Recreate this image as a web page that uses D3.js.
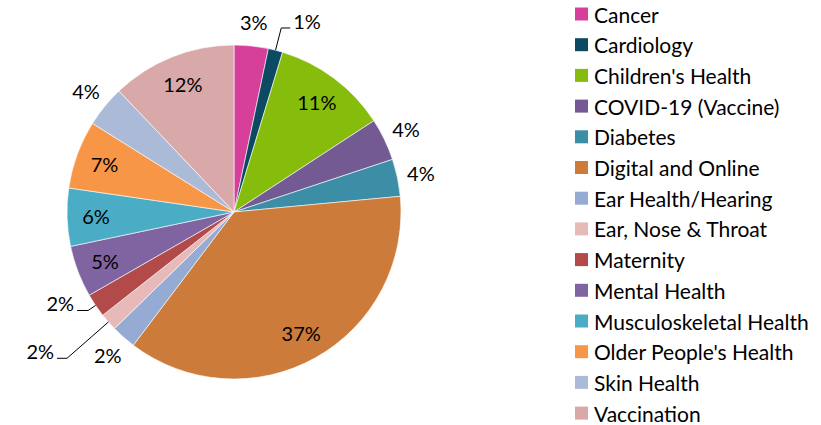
<!DOCTYPE html>
<html>
<head>
<meta charset="utf-8">
<script src="https://cdn.jsdelivr.net/npm/d3@7"></script>
<style>
  body { margin: 0; background: #fff; }
  text { font-family: Lato, "Noto Sans", sans-serif; fill: #000; }
</style>
</head>
<body>
<div id="chart"></div>
<script>
const categorias = ["Cancer", "Cardiology", "Children's Health", "COVID-19 (Vaccine)", "Diabetes",
    "Digital and Online", "Ear Health/Hearing", "Ear, Nose & Throat", "Maternity", "Mental Health",
    "Musculoskeletal Health", "Older People's Health", "Skin Health", "Vaccination"];
const porcentajes = [3.3, 1.4, 11.1, 4.1, 3.6, 36.8, 2.4, 1.7, 2.3, 5.0, 5.6, 6.6, 4.0, 12.1];
const colores = ["#d6409a", "#0c4962", "#86bc0b", "#735a92", "#3b8ea5", "#cc7b3a", "#95abd4",
    "#e8b9b9", "#b34a4a", "#8064a2", "#4bacc6", "#f79646", "#aabad7", "#d9a9a9"];

const datos = categorias.map((c, i) => ({ cat: c, valor: porcentajes[i] }));

const width = 821, height = 425;
const cx = 234, cy = 212, radio = 167;

const svg = d3.select("#chart")
    .append("svg")
    .attr("width", width)
    .attr("height", height);

const color = d3.scaleOrdinal().domain(categorias).range(colores);

const pie = d3.pie().value(d => d.valor).sort(null);
const arc = d3.arc().innerRadius(0).outerRadius(radio);
const arcs = pie(datos);

const g = svg.append("g").attr("transform", `translate(${cx},${cy})`);

g.selectAll("path.slice")
    .data(arcs)
    .enter()
    .append("path")
    .attr("class", "slice")
    .attr("d", arc)
    .attr("fill", d => color(d.data.cat))
    .attr("stroke", "#fff")
    .attr("stroke-width", 0.6);

// etiquetas: dentro, fuera, o fuera con linea guia
const fuente = 20;
const guias = {
    "Cardiology": { r: 190, len: 9, lado: 1 },
    "Ear, Nose & Throat": { r: 222, len: 10, lado: -1 },
    "Maternity": { r: 176, len: 11, lado: -1 }
};
const punto = (ang, r) => [Math.sin(ang) * r, -Math.cos(ang) * r];
const fmt = v => Math.round(v) + "%";

arcs.forEach(d => {
    const mid = (d.startAngle + d.endAngle) / 2;
    const guia = guias[d.data.cat];
    if (guia) {
        const p0 = punto(mid, radio);
        const p1 = punto(mid, guia.r);
        const p2 = [p1[0] + guia.lado * guia.len, p1[1]];
        g.append("polyline")
            .attr("points", [p0, p1, p2].map(p => p.join(",")).join(" "))
            .attr("fill", "none")
            .attr("stroke", "#000")
            .attr("stroke-width", 1);
        g.append("text")
            .attr("x", p2[0] + guia.lado * 3)
            .attr("y", p2[1] + 1)
            .attr("text-anchor", guia.lado > 0 ? "start" : "end")
            .attr("font-size", fuente)
            .text(fmt(d.data.valor));
    } else {
        const r = d.data.valor < 4.5 ? 191 : 138;
        const p = punto(mid, r);
        g.append("text")
            .attr("x", p[0])
            .attr("y", p[1])
            .attr("text-anchor", "middle")
            .attr("dominant-baseline", "central")
            .attr("font-size", fuente)
            .text(fmt(d.data.valor));
    }
});

// leyenda
const leyenda = svg.append("g").attr("transform", "translate(575,14)");
const filas = leyenda.selectAll("g")
    .data(categorias)
    .enter()
    .append("g")
    .attr("transform", (d, i) => `translate(0,${i * 30.7})`);
filas.append("rect")
    .attr("x", 0)
    .attr("y", -6.5)
    .attr("width", 13)
    .attr("height", 13)
    .attr("fill", d => color(d));
filas.append("text")
    .attr("x", 19)
    .attr("y", 0)
    .attr("dominant-baseline", "central")
    .attr("font-size", 21)
    .text(d => d);
</script>
</body>
</html>
